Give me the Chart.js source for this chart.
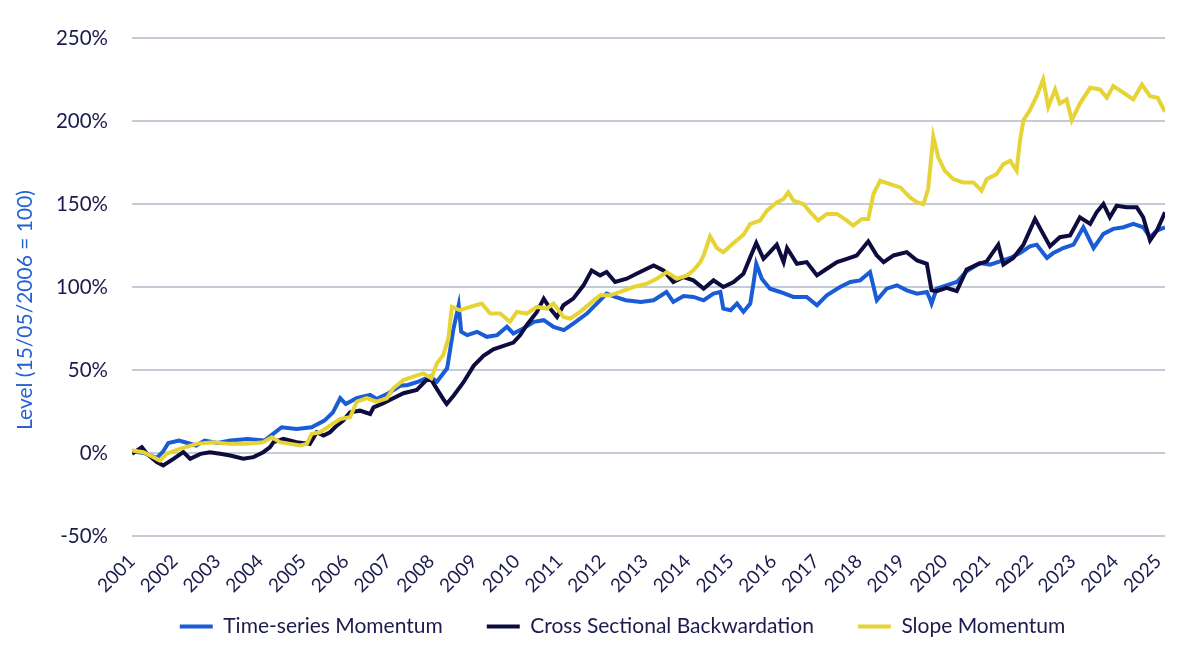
<!DOCTYPE html>
<html>
<head>
<meta charset="utf-8">
<script src="https://cdn.jsdelivr.net/npm/chart.js@4.4.1/dist/chart.umd.min.js"></script>
<style>
  html, body { margin: 0; padding: 0; background: #ffffff; }
  #wrap { width: 1200px; height: 665px; position: relative; }
</style>
</head>
<body>
<div id="wrap"><canvas id="c"></canvas></div>
<script>
// ---- Data ----
const seriesNames = ["Time-series Momentum", "Cross Sectional Backwardation", "Slope Momentum"];
const yAxisTitle = "Level (15/05/2006 = 100)";
const yearLabels = [2001,2002,2003,2004,2005,2006,2007,2008,2009,2010,2011,2012,2013,2014,2015,2016,2017,2018,2019,2020,2021,2022,2023,2024,2025];
const yTickValues = [-50, 0, 50, 100, 150, 200, 250];

const tsmYears = [2001.00,2001.27,2001.58,2001.73,2001.85,2002.10,2002.30,2002.50,2002.70,2003.00,2003.30,2003.70,2004.10,2004.30,2004.50,2004.85,2005.20,2005.50,2005.70,2005.87,2006.00,2006.25,2006.57,2006.72,2007.00,2007.27,2007.45,2007.70,2007.97,2008.13,2008.37,2008.52,2008.64,2008.70,2008.84,2009.07,2009.30,2009.54,2009.77,2009.92,2010.15,2010.40,2010.63,2010.86,2011.10,2011.32,2011.64,2011.87,2012.10,2012.30,2012.55,2012.90,2013.20,2013.50,2013.66,2013.90,2014.13,2014.37,2014.60,2014.76,2014.83,2015.00,2015.15,2015.30,2015.46,2015.54,2015.60,2015.73,2015.92,2016.16,2016.47,2016.78,2017.02,2017.25,2017.56,2017.80,2018.03,2018.26,2018.42,2018.65,2018.89,2019.12,2019.36,2019.59,2019.66,2019.70,2019.82,2020.05,2020.29,2020.52,2020.83,2021.07,2021.30,2021.54,2021.77,2022.00,2022.16,2022.40,2022.55,2022.78,2023.02,2023.25,2023.49,2023.72,2023.95,2024.19,2024.42,2024.65,2024.81,2024.97,2025.16];
const tsmValues = [1,0,-3,1,6,7.5,6,4.5,7.5,6,7.5,8.5,7.5,11.5,15.5,14.5,15.5,19.5,24.5,33,29.5,33,35,32.5,36,40.5,41,43,46,43,51,75,89,73,71,73,70,71,76,72,75,79,80,76,74,78,84,90,96,94,92,91,92,97,91,94.5,94,92,96,97,87,86,90,85,90,103,114,105,99,97,94,94,89,95,100,103,104,109,92,99,101,98,96,97,93,90,99,101,103,109.5,114.5,113.5,115.5,117.5,120.5,124.5,125.5,117.5,120.5,123.5,125.5,136,123.5,132,135,136,138,136,130,134,136];

const csbYears = [2001.00,2001.23,2001.35,2001.58,2001.73,2001.97,2002.20,2002.36,2002.60,2002.82,2003.06,2003.30,2003.60,2003.84,2004.07,2004.23,2004.31,2004.54,2004.85,2005.16,2005.32,2005.48,2005.63,2005.79,2005.94,2006.10,2006.33,2006.57,2006.65,2006.88,2007.11,2007.35,2007.66,2007.89,2008.00,2008.17,2008.28,2008.36,2008.52,2008.75,2008.99,2009.22,2009.45,2009.69,2009.92,2010.08,2010.23,2010.47,2010.63,2010.78,2010.94,2011.09,2011.32,2011.56,2011.75,2011.95,2012.10,2012.30,2012.57,2012.80,2013.04,2013.20,2013.43,2013.66,2013.90,2014.13,2014.37,2014.60,2014.83,2015.07,2015.30,2015.46,2015.60,2015.77,2015.92,2016.08,2016.24,2016.32,2016.55,2016.78,2017.02,2017.25,2017.49,2017.72,2017.95,2018.22,2018.42,2018.58,2018.81,2019.12,2019.36,2019.59,2019.70,2019.82,2020.05,2020.29,2020.52,2020.76,2020.99,2021.26,2021.38,2021.61,2021.85,2022.12,2022.31,2022.47,2022.70,2022.94,2023.17,2023.41,2023.56,2023.72,2023.87,2024.03,2024.26,2024.50,2024.65,2024.81,2024.97,2025.16];
const csbValues = [-0.5,3.5,-0.5,-5.5,-7.5,-3.5,0.5,-3.5,-0.5,0.5,-0.5,-1.5,-3.5,-2.5,0.5,3.5,6.5,8.5,6.5,5.5,12.5,10.5,12.5,16.5,19.5,24.5,25.5,23.5,27.5,30,33,36,38,44,44,37,32.5,29.5,34.5,42.5,52.5,58.5,62.5,64.5,66.5,71,77,85,93,87,82,89,93,101,110,107,109,103,105,108,111,113,110,103,106,104,99,104,100,103,108,118,126.5,117,121,125.5,115,123.5,114,115,107,111,115,117,119,127.5,119,115,119,121,116,114,98,97.5,99.5,97.5,110.5,113.5,115.5,125.5,113.5,117.5,125.5,141,132,124.5,130,131,142,138,145,150,142,149,148,148,142,128,134,145];

const slopeYears = [2001.00,2001.27,2001.50,2001.65,2001.81,2002.12,2002.51,2002.90,2003.29,2003.68,2004.07,2004.27,2004.46,2004.70,2004.93,2005.09,2005.20,2005.40,2005.63,2005.87,2006.10,2006.26,2006.49,2006.72,2006.96,2007.11,2007.35,2007.58,2007.81,2008.00,2008.13,2008.28,2008.40,2008.48,2008.67,2008.91,2009.18,2009.38,2009.61,2009.84,2010.00,2010.23,2010.47,2010.70,2010.86,2011.09,2011.25,2011.48,2011.71,2011.95,2012.18,2012.42,2012.73,2013.04,2013.27,2013.51,2013.74,2013.98,2014.13,2014.29,2014.37,2014.52,2014.68,2014.83,2015.07,2015.30,2015.46,2015.69,2015.85,2016.08,2016.24,2016.35,2016.47,2016.70,2016.90,2017.05,2017.25,2017.49,2017.72,2017.87,2018.07,2018.22,2018.34,2018.50,2018.73,2018.97,2019.20,2019.36,2019.51,2019.62,2019.74,2019.86,2020.01,2020.21,2020.44,2020.68,2020.87,2020.99,2021.22,2021.38,2021.54,2021.69,2021.77,2021.85,2022.00,2022.16,2022.31,2022.43,2022.59,2022.70,2022.86,2022.98,2023.17,2023.41,2023.64,2023.80,2023.95,2024.19,2024.42,2024.62,2024.81,2024.99,2025.16];
const slopeValues = [1.5,0.5,-2.5,-4.5,-0.5,2.5,5.5,6.5,5.5,5.5,6.5,9.5,6.5,5.5,4.5,5.5,11.5,12.5,16.5,20.5,21.5,31,33,31,33,39,44,46,48,45,54,59,69,88,86,88,90,84,84,79,85,84,88,87,90,82,81,85,90,95,95,97,100,102,105,109,105,107,110,115,119,130.5,123.5,121,126.5,131.5,138,140,146,151,153,157,152,150,144,140,144,144,140,137,141,141,156,164,162,160,154,151,150,159,190.5,178,170,165,163,163,158,165,168,174,176,170,188.5,200.5,206.5,215,225,208.5,219,210.5,213,200.5,210.5,220,219,214,221,217,213,222,215,214,205.5];

// ---- Styles ----
const seriesColors = ["#1a5cd6", "#0e0c3f", "#e6d335"];
const textColor = "#1c1b4d";
const titleColor = "#2262d4";
const gridColor = "#c3ccd6";
const fontFamily = "Lato, 'Open Sans', sans-serif";

function pairs(xs, ys) { return xs.map((x, i) => ({ x: x, y: ys[i] })); }
function noLabelClip(scale) { scale._computeLabelArea = function () { return undefined; }; }

const yTitlePlugin = {
  id: 'yTitle',
  afterDraw(chart) {
    const ctx = chart.ctx;
    ctx.save();
    ctx.translate(25, 310);
    ctx.rotate(-Math.PI / 2);
    ctx.textAlign = 'center';
    ctx.textBaseline = 'middle';
    ctx.fillStyle = titleColor;
    ctx.font = "21px " + fontFamily;
    ctx.fillText(yAxisTitle, 0, 0);
    ctx.restore();
  }
};

const seriesData = [pairs(tsmYears, tsmValues), pairs(csbYears, csbValues), pairs(slopeYears, slopeValues)];

new Chart(document.getElementById('c'), {
  type: 'line',
  data: {
    datasets: seriesNames.map((name, i) => ({
      label: name,
      data: seriesData[i],
      borderColor: seriesColors[i],
      backgroundColor: seriesColors[i],
      borderWidth: 4,
      pointRadius: 0,
      tension: 0,
      order: 3 - i
    }))
  },
  options: {
    responsive: true,
    maintainAspectRatio: false,
    animation: false,
    devicePixelRatio: 1,
    layout: { padding: { left: 80, right: 35, top: 38, bottom: 18 } },
    plugins: {
      tooltip: { enabled: false },
      legend: {
        position: 'bottom',
        fullSize: true,
        labels: {
          boxWidth: 33,
          boxHeight: 4,
          padding: 44,
          color: textColor,
          font: { family: fontFamily, size: 21 },
          generateLabels(chart) {
            return chart.data.datasets.map((d, i) => ({
              text: d.label, fillStyle: d.borderColor, strokeStyle: d.borderColor,
              lineWidth: 0, hidden: false, datasetIndex: i, fontColor: textColor
            }));
          }
        }
      }
    },
    scales: {
      x: {
        type: 'linear',
        min: 2001,
        max: 2025.16,
        grid: { display: false },
        border: { display: false },
        afterBuildTicks(scale) { scale.ticks = yearLabels.map(v => ({ value: v })); },
        afterFit(scale) { scale.height = 36; scale.paddingLeft = 0; scale.paddingRight = 0; noLabelClip(scale); },
        ticks: {
          autoSkip: false,
          minRotation: 45,
          maxRotation: 45,
          padding: 6,
          color: textColor,
          font: { family: fontFamily, size: 19 },
          callback: v => String(v)
        }
      },
      y: {
        min: -50,
        max: 250,
        afterBuildTicks(scale) { scale.ticks = yTickValues.map(v => ({ value: v })); },
        afterFit(scale) { scale.width = 52; scale.paddingTop = 0; scale.paddingBottom = 0; noLabelClip(scale); },
        grid: { color: gridColor, lineWidth: 2, drawTicks: false },
        border: { display: false },
        ticks: {
          padding: 24,
          color: textColor,
          font: { family: fontFamily, size: 20.5 },
          callback: v => v + '%'
        }
      }
    }
  },
  plugins: [yTitlePlugin]
});
</script>
</body>
</html>
